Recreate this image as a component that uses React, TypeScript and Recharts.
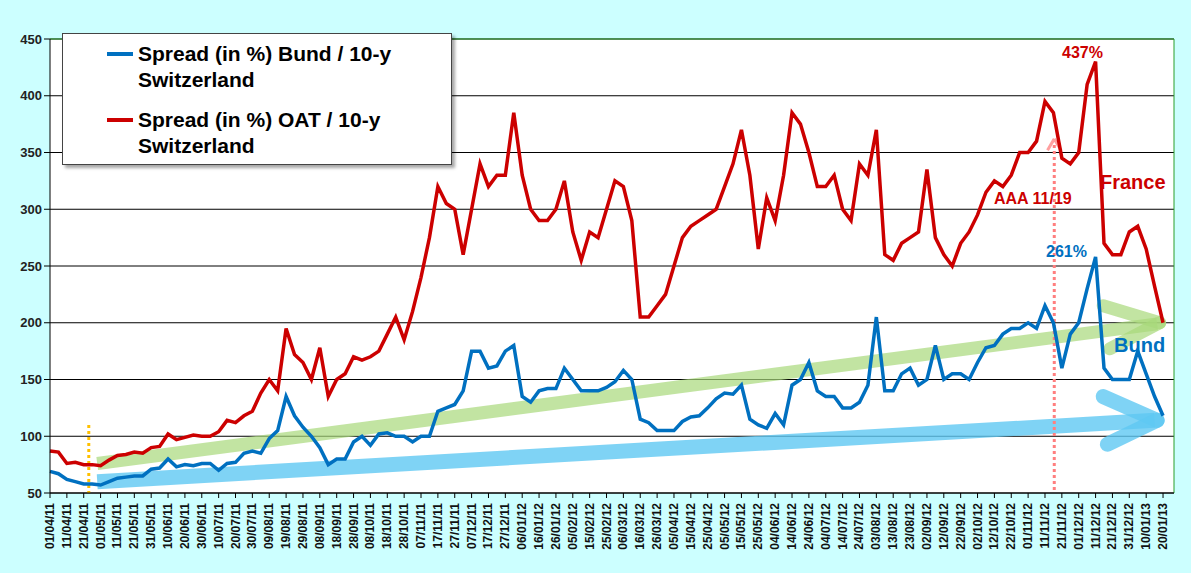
import { LineChart, Line, XAxis, YAxis, CartesianGrid, ReferenceLine } from "recharts";

const tickLabels = [
  "01/04/11", "11/04/11", "21/04/11", "01/05/11", "11/05/11", "21/05/11", "31/05/11", "10/06/11",
  "20/06/11", "30/06/11", "10/07/11", "20/07/11", "30/07/11", "09/08/11", "19/08/11", "29/08/11",
  "08/09/11", "18/09/11", "28/09/11", "08/10/11", "18/10/11", "28/10/11", "07/11/11", "17/11/11",
  "27/11/11", "07/12/11", "17/12/11", "27/12/11", "06/01/12", "16/01/12", "26/01/12", "05/02/12",
  "15/02/12", "25/02/12", "06/03/12", "16/03/12", "26/03/12", "05/04/12", "15/04/12", "25/04/12",
  "05/05/12", "15/05/12", "25/05/12", "04/06/12", "14/06/12", "24/06/12", "04/07/12", "14/07/12",
  "24/07/12", "03/08/12", "13/08/12", "23/08/12", "02/09/12", "12/09/12", "22/09/12", "02/10/12",
  "12/10/12", "22/10/12", "01/11/12", "11/11/12", "21/11/12", "01/12/12", "11/12/12", "21/12/12",
  "31/12/12", "10/01/13", "20/01/13",
];

// one value every 5 days (two per tick label)
const oat = [
  87, 86, 76, 77, 75, 75, 74, 79, 83, 84, 86, 85, 90, 91, 102, 97, 99, 101, 100, 100,
  104, 114, 112, 118, 122, 138, 150, 140, 195, 172, 165, 150, 178, 135, 150, 155, 170, 167, 170, 175,
  190, 205, 185, 210, 240, 275, 320, 305, 300, 260, 300, 340, 320, 330, 330, 385, 330, 300, 290, 290,
  300, 325, 280, 255, 280, 275, 300, 325, 320, 290, 205, 205, 215, 225, 250, 275, 285, 290, 295, 300,
  320, 340, 370, 330, 265, 310, 290, 330, 385, 375, 350, 320, 320, 330, 300, 290, 340, 330, 370, 260,
  255, 270, 275, 280, 335, 275, 260, 250, 270, 280, 295, 315, 325, 320, 330, 350, 350, 360, 395, 385,
  345, 340, 350, 410, 430, 270, 260, 260, 280, 285, 265, 232, 200,
];

const bund = [
  69, 67, 62, 60, 58, 58, 57, 60, 63, 64, 65, 65, 71, 72, 80, 73, 75, 74, 76, 76,
  70, 76, 77, 85, 87, 85, 98, 105, 135, 118, 108, 100, 90, 75, 80, 80, 95, 100, 92, 102,
  103, 100, 100, 95, 100, 100, 122, 125, 128, 140, 175, 175, 160, 162, 175, 180, 135, 130, 140, 142,
  142, 160, 150, 140, 140, 140, 143, 148, 158, 150, 115, 112, 105, 105, 105, 113, 117, 118, 125, 133,
  138, 137, 145, 115, 110, 107, 120, 110, 145, 150, 165, 140, 135, 135, 125, 125, 130, 145, 205, 140,
  140, 155, 160, 145, 150, 180, 150, 155, 155, 150, 165, 178, 180, 190, 195, 195, 200, 195, 215, 200,
  160, 190, 200, 230, 258, 160, 150, 150, 150, 175, 155, 135, 118,
];

const yTicks = [50, 100, 150, 200, 250, 300, 350, 400, 450];

const data = oat.map((v, i) => ({ idx: i, oat: v, bund: bund[i] }));
const xTicks = tickLabels.map((_, i) => i * 2);

const RED = "#cc0000";
const BLUE = "#0070c0";
const FONT = "Arial, 'Liberation Sans', sans-serif";

function DateTick({ x, y, payload }: any) {
  const label = tickLabels[payload.value / 2] ?? "";
  return (
    <text
      x={x}
      y={y + 3}
      transform={`rotate(-90, ${x}, ${y + 3})`}
      textAnchor="end"
      dy={4}
      fontSize={12}
      fontWeight="bold"
      fontFamily={FONT}
      fill="#111"
    >
      {label}
    </text>
  );
}

function seg(x1: number, y1: number, x2: number, y2: number) {
  return [{ x: x1, y: y1 }, { x: x2, y: y2 }] as any;
}

export default function App() {
  return (
    <div style={{ position: "fixed", left: 0, top: 0, width: 1191, height: 573, background: "#ccffff", fontFamily: FONT }}>
      <LineChart width={1191} height={573} data={data} margin={{ top: 39, right: 17, bottom: 0, left: 0 }}>
        <CartesianGrid vertical={false} stroke="#000" fill="#fff" />
        <XAxis
          dataKey="idx"
          type="number"
          domain={[0, 133.3]}
          ticks={xTicks}
          interval={0}
          tick={<DateTick />}
          height={80}
          axisLine={{ stroke: "#000" }}
          tickLine={{ stroke: "#000" }}
          tickSize={5}
        />
        <YAxis
          domain={[50, 450]}
          ticks={yTicks}
          width={50}
          axisLine={{ stroke: "#000" }}
          tickLine={{ stroke: "#000" }}
          tick={{ fontSize: 13, fontWeight: "bold", fill: "#222", fontFamily: FONT }}
        />
        <ReferenceLine y={450} stroke="#2a9d2a" />
        <ReferenceLine x={133.3} stroke="#2a9d2a" />
        {/* trend arrows */}
        <ReferenceLine segment={seg(5.6, 76, 131.3, 199)} stroke="#a8d97a" strokeOpacity={0.7} strokeWidth={13} />
        <ReferenceLine segment={seg(124.9, 215, 131.6, 200)} stroke="#a8d97a" strokeOpacity={0.7} strokeWidth={13} strokeLinecap="round" />
        <ReferenceLine segment={seg(125.7, 177, 131.6, 200)} stroke="#a8d97a" strokeOpacity={0.7} strokeWidth={13} strokeLinecap="round" />
        <ReferenceLine segment={seg(5.6, 60, 131, 114)} stroke="#5fc8f2" strokeOpacity={0.8} strokeWidth={15} />
        <ReferenceLine segment={seg(124.9, 135, 131.3, 114)} stroke="#5fc8f2" strokeOpacity={0.8} strokeWidth={15} strokeLinecap="round" />
        <ReferenceLine segment={seg(125.4, 93, 131.3, 114)} stroke="#5fc8f2" strokeOpacity={0.8} strokeWidth={15} strokeLinecap="round" />
        <ReferenceLine segment={seg(4.6, 110, 4.6, 50)} stroke="#ffc000" strokeWidth={3} strokeDasharray="3 3" />
        <ReferenceLine segment={seg(119.1, 362, 119.1, 50)} stroke="#ff7f7f" strokeWidth={3} strokeDasharray="3 3" />
        <ReferenceLine segment={seg(118.3, 352, 119.1, 362)} stroke="#ff9f9f" strokeWidth={3} />
        <ReferenceLine segment={seg(119.9, 352, 119.1, 362)} stroke="#ff9f9f" strokeWidth={3} />
        <Line dataKey="oat" stroke={RED} strokeWidth={3.5} dot={false} isAnimationActive={false} />
        <Line dataKey="bund" stroke={BLUE} strokeWidth={3.5} dot={false} isAnimationActive={false} />
      </LineChart>

      <div
        style={{
          position: "absolute", left: 62, top: 33, width: 390, height: 132, background: "#fff",
          border: "1px solid #444", boxShadow: "3px 3px 3px rgba(0,0,0,0.35)", boxSizing: "border-box",
          fontWeight: "bold", fontSize: 21, lineHeight: "26px", color: "#000",
        }}
      >
        <div style={{ position: "absolute", left: 44, top: 7, width: 26, height: 4, background: BLUE, marginTop: 11 }} />
        <div style={{ position: "absolute", left: 75, top: 7 }}>Spread (in %) Bund / 10-y<br />Switzerland</div>
        <div style={{ position: "absolute", left: 44, top: 73, width: 26, height: 4, background: RED, marginTop: 11 }} />
        <div style={{ position: "absolute", left: 75, top: 73 }}>Spread (in %) OAT / 10-y<br />Switzerland</div>
      </div>

      <div style={{ position: "absolute", left: 1062, top: 44, color: RED, fontWeight: "bold", fontSize: 16 }}>437%</div>
      <div style={{ position: "absolute", left: 1100, top: 171, color: RED, fontWeight: "bold", fontSize: 20 }}>France</div>
      <div style={{ position: "absolute", left: 994, top: 190, color: RED, fontSize: 16, fontWeight: "bold" }}>AAA 11/19</div>
      <div style={{ position: "absolute", left: 1046, top: 243, color: BLUE, fontWeight: "bold", fontSize: 16 }}>261%</div>
      <div style={{ position: "absolute", left: 1114, top: 334, color: BLUE, fontWeight: "bold", fontSize: 20 }}>Bund</div>
    </div>
  );
}
